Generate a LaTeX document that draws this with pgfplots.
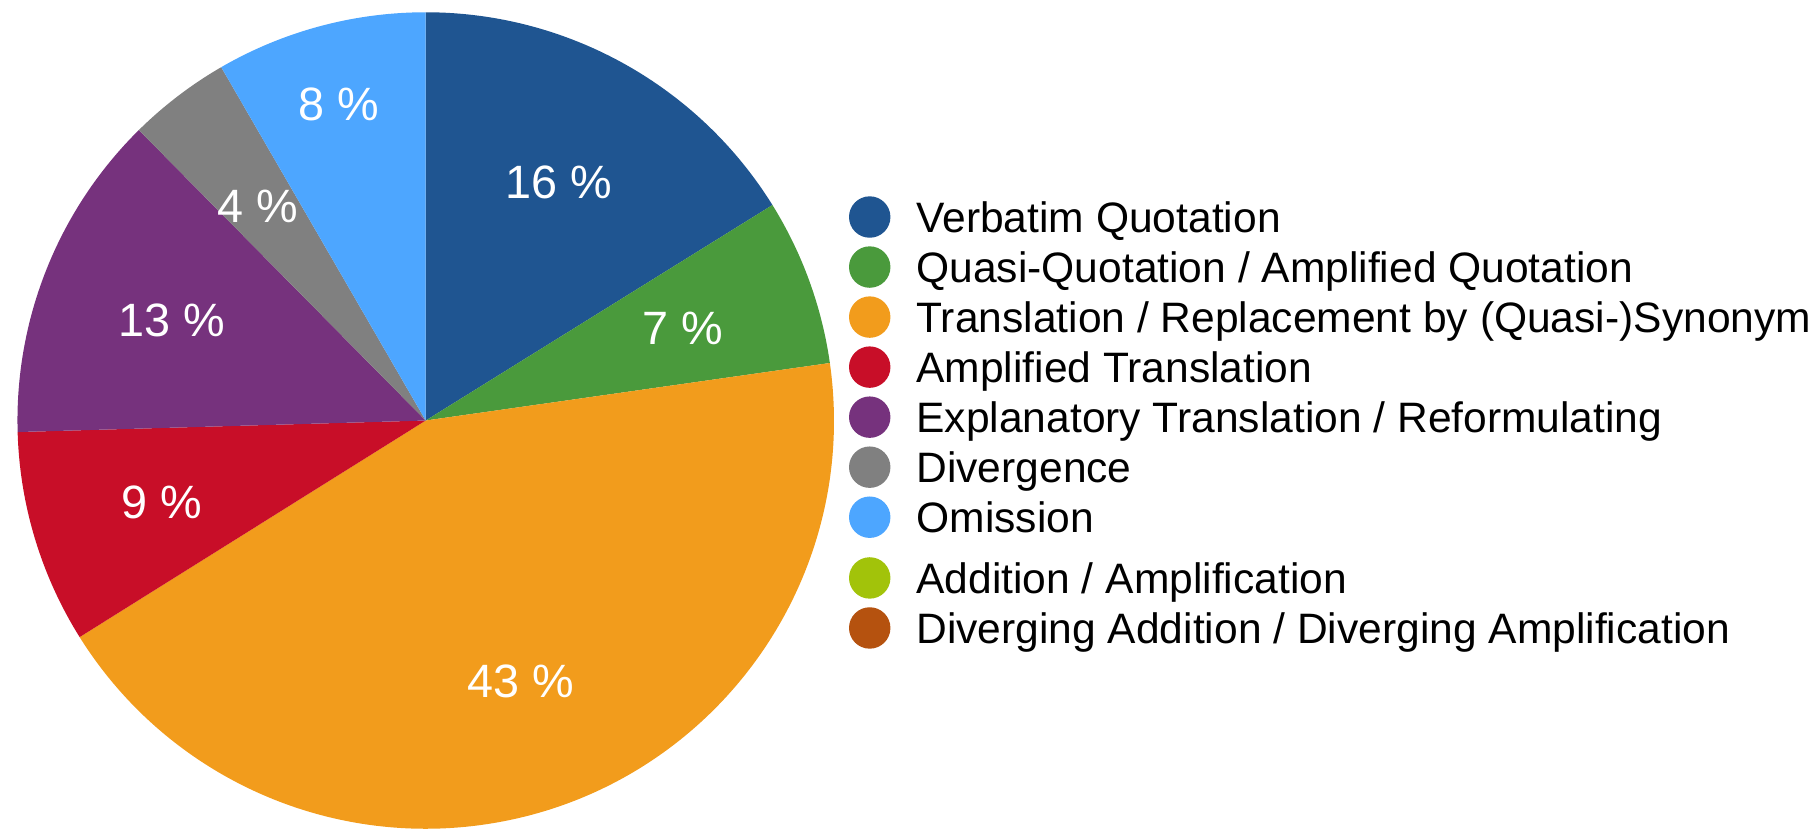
\documentclass[border=0pt]{standalone}
\usepackage{pgfplots}
\pgfplotsset{compat=1.18}
\usepackage{fontspec}
\setmainfont{Liberation Sans}
\definecolor{cVerb}{RGB}{31,85,145}
\definecolor{cQuasi}{RGB}{74,154,60}
\definecolor{cTrans}{RGB}{242,156,28}
\definecolor{cAmpl}{RGB}{200,14,40}
\definecolor{cExpl}{RGB}{118,50,125}
\definecolor{cDiv}{RGB}{128,128,128}
\definecolor{cOmis}{RGB}{77,166,255}
\definecolor{cAdd}{RGB}{162,195,10}
\definecolor{cDadd}{RGB}{181,82,15}
% slice: colour, start (percent), share (percent)
\newcommand{\pieslice}[3]{%
  \fill[#1, overlay] (axis cs:425.7,408.5) -- ++({90-3.6*(#2)}:4.08cm)
    arc[start angle={90-3.6*(#2)}, end angle={90-3.6*((#2)+(#3))}, radius=4.08cm] -- cycle;}
\newcommand{\pielabel}[3]{%
  \node[text=white, font=\fontsize{13.3}{15}\selectfont, inner sep=0pt] at (axis cs:#1,#2) {#3};}
\newcommand{\legimg}[1]{%
  \addlegendimage{legend image code/.code={\fill[#1] (0.2cm,0cm) circle[radius=0.2cm];}}}
\begin{document}
\begin{tikzpicture}
\begin{axis}[
  x=0.01cm, y=0.01cm,
  xmin=0, xmax=1817, ymin=0, ymax=829,
  hide axis, clip=false,
  legend cell align=left,
  legend style={
    at={(axis cs:849,637)}, anchor=north west,
    draw=none, fill=none, inner sep=0pt, outer sep=0pt,
    row sep=0pt, column sep=0.26cm,
    font=\fontsize{12.1}{14}\selectfont,
    nodes={inner sep=0pt, outer sep=0pt, text height=0.4025cm, text depth=0.0975cm},
  },
]
\path (axis cs:0,0) rectangle (axis cs:1817,829);
% percentages read from the chart (clockwise from 12 o'clock)
\pieslice{cVerb}{0}{16.15}
\pieslice{cQuasi}{16.15}{6.6}
\pieslice{cTrans}{22.75}{43.35}
\pieslice{cAmpl}{66.1}{8.45}
\pieslice{cExpl}{74.55}{13.05}
\pieslice{cDiv}{87.6}{4.05}
\pieslice{cOmis}{91.65}{8.35}
\pielabel{559}{647}{16 \%}
\pielabel{683}{501}{7 \%}
\pielabel{521}{148}{43 \%}
\pielabel{162}{327}{9 \%}
\pielabel{172}{509}{13 \%}
\pielabel{258}{623}{4 \%}
\pielabel{339}{725}{8 \%}
\legimg{cVerb}
\addlegendentry{Verbatim Quotation}
\legimg{cQuasi}
\addlegendentry{Quasi-Quotation / Amplified Quotation}
\legimg{cTrans}
\addlegendentry{Translation / Replacement by (Quasi-)Synonym}
\legimg{cAmpl}
\addlegendentry{Amplified Translation}
\legimg{cExpl}
\addlegendentry{Explanatory Translation / Reformulating}
\legimg{cDiv}
\addlegendentry{Divergence}
\legimg{cOmis}
\addlegendentry{Omission}
\addlegendimage{legend image code/.code={\path (0.2cm,0.35cm); \fill[cAdd] (0.2cm,0cm) circle[radius=0.2cm];}}
\addlegendentry{Addition / Amplification}
\legimg{cDadd}
\addlegendentry{Diverging Addition / Diverging Amplification}
\end{axis}
\end{tikzpicture}
\end{document}
